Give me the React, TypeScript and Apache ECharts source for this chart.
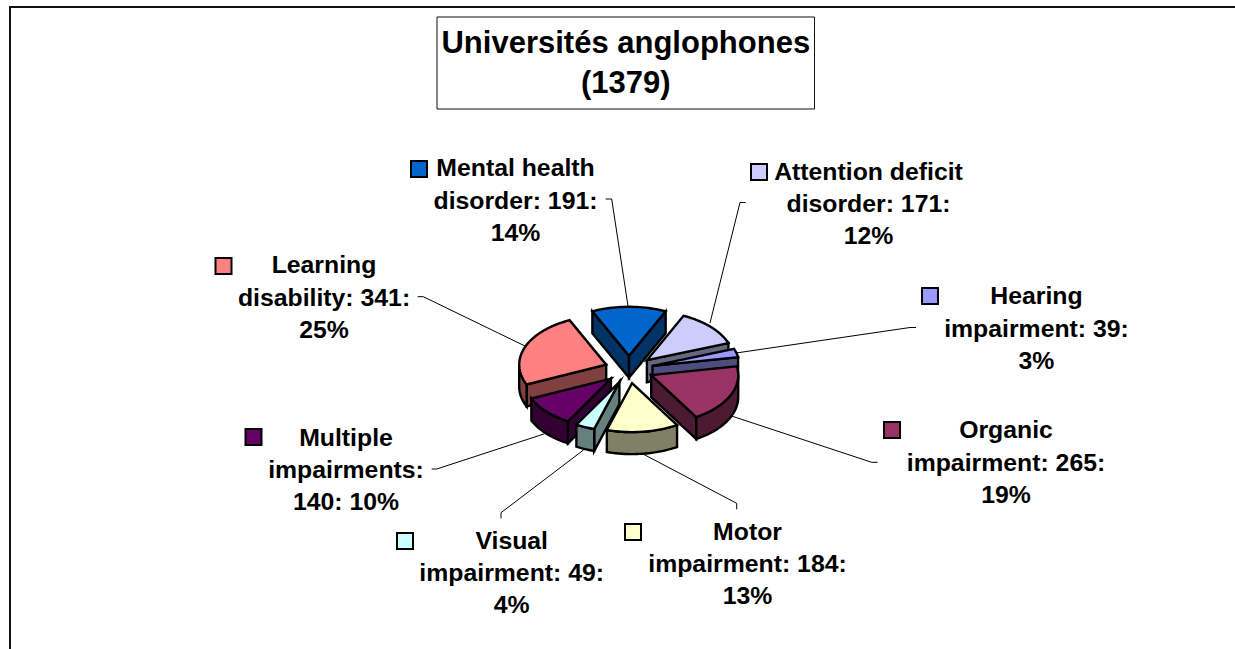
import React, { useEffect, useRef } from "react";
import * as echarts from "echarts";

// ---- data ----
const titleLines = ["Universités anglophones", "(1379)"];
const categories = [
  "Mental health disorder",
  "Attention deficit disorder",
  "Hearing impairment",
  "Organic impairment",
  "Motor impairment",
  "Visual impairment",
  "Multiple impairments",
  "Learning disability",
];
const values = [191, 171, 39, 265, 184, 49, 140, 341];
const labelTexts = [
  "Mental health\ndisorder: 191:\n14%",
  "Attention deficit\ndisorder: 171:\n12%",
  "Hearing\nimpairment: 39:\n3%",
  "Organic\nimpairment: 265:\n19%",
  "Motor\nimpairment: 184:\n13%",
  "Visual\nimpairment: 49:\n4%",
  "Multiple\nimpairments:\n140: 10%",
  "Learning\ndisability: 341:\n25%",
];

// ---- styles ----
const topColors = ["#0066CC", "#CCCCFF", "#9999FF", "#993366", "#FFFFCC", "#CCFFFF", "#660066", "#FF8080"];
const sideColors = ["#003366", "#666680", "#4D4D80", "#4D1A33", "#808066", "#668080", "#330033", "#804040"];

// ---- layout ----
const CX = 629;
const CY = 369.5;
const RX = 87;
const RY = 49;
const DEPTH = 22;
const EXPLODE = 0.28;
const FIRST_ANGLE = -24.9;
const FONT = '"Liberation Sans", Arial, sans-serif';
const labelCentres = [
  [515.5, 200], [868.5, 203.5], [1036.5, 328], [1006, 462],
  [747.5, 563.5], [511.7, 572.5], [346, 469.5], [324, 297],
];
const keyCorners = [
  [410, 160], [750, 163], [921, 287], [883, 421],
  [624, 523], [396, 532], [244.5, 428], [214.5, 257],
];
const leaders = [
  [[605.7, 199], [611.7, 199], [628, 306]],
  [[745.7, 202.5], [740, 202.5], [710, 323]],
  [[916, 327.5], [910, 327.5], [736, 353]],
  [[877.7, 462.3], [871.7, 462.3], [727, 414.5]],
  [[736.7, 509.3], [736.7, 503.3], [643, 454]],
  [[501, 518.3], [501, 512.7], [583.5, 450]],
  [[431.7, 469], [436.7, 469], [544.5, 433.8]],
  [[417.7, 296.7], [423.3, 296.7], [526, 346.5]],
];

const total = values.reduce((a, b) => a + b, 0);
const rad = (d: number) => (d * Math.PI) / 180;
let cursor = FIRST_ANGLE;
const slices = values.map((v) => {
  const start = cursor;
  const end = start + (v / total) * 360;
  cursor = end;
  const mid = (start + end) / 2;
  return {
    start,
    end,
    ax: CX + EXPLODE * RX * Math.sin(rad(mid)),
    ay: CY - EXPLODE * RY * Math.cos(rad(mid)),
  };
});
const drawOrder = values.map((_, i) => i).sort((a, b) => slices[a].ay - slices[b].ay);

function rim(s: { ax: number; ay: number }, deg: number, drop = 0) {
  return [s.ax + RX * Math.sin(rad(deg)), s.ay - RY * Math.cos(rad(deg)) + drop];
}
function arc(s: { ax: number; ay: number }, a: number, b: number, drop = 0) {
  const n = Math.max(2, Math.ceil(Math.abs(b - a) / 2));
  const out: number[][] = [];
  for (let i = 0; i <= n; i++) out.push(rim(s, a + ((b - a) * i) / n, drop));
  return out;
}

function renderSlice(params: any, api: any) {
  const i = api.value(0);
  const s = slices[i];
  const apex = [s.ax, s.ay];
  const apexLow = [s.ax, s.ay + DEPTH];
  const stroke = { stroke: "#000", lineWidth: 2.4, lineJoin: "miter", miterLimit: 12 };
  const side = { ...stroke, fill: sideColors[i] };
  const children: any[] = [];
  const face = (points: number[][]) => children.push({ type: "polygon", shape: { points }, style: side });
  if (Math.sin(rad(s.start)) < 0) {
    face([apex, rim(s, s.start), rim(s, s.start, DEPTH), apexLow]);
  }
  if (Math.sin(rad(s.end)) > 0) {
    face([apex, rim(s, s.end), rim(s, s.end, DEPTH), apexLow]);
  }
  const from = Math.max(s.start, 90);
  const to = Math.min(s.end, 270);
  if (to > from) {
    face([...arc(s, from, to), ...arc(s, to, from, DEPTH)]);
  }
  children.push({
    type: "polygon",
    shape: { points: [apex, ...arc(s, s.start, s.end)] },
    style: { ...stroke, fill: topColors[i] },
  });
  return { type: "group", children };
}

export default function App() {
  const ref = useRef<HTMLDivElement>(null);
  useEffect(() => {
    document.body.style.margin = "0";
    const chart = echarts.init(ref.current!, null, { renderer: "svg" });
    const elements: any[] = [
      { type: "line", shape: { x1: 9, y1: 7, x2: 1235, y2: 7 }, style: { stroke: "#111", lineWidth: 2 } },
      { type: "line", shape: { x1: 10, y1: 6, x2: 10, y2: 649 }, style: { stroke: "#111", lineWidth: 2 } },
      {
        type: "rect",
        shape: { x: 437, y: 17, width: 377.5, height: 92 },
        style: { fill: "#fff", stroke: "#111", lineWidth: 1 },
      },
      {
        type: "text",
        x: 625.8,
        y: 62.5,
        style: {
          text: titleLines.join("\n"),
          fill: "#000",
          font: `bold 31px ${FONT}`,
          lineHeight: 40,
          align: "center",
          verticalAlign: "middle",
        },
      },
    ];
    categories.forEach((name, i) => {
      elements.push({
        type: "polyline",
        name: `${name} leader`,
        shape: { points: leaders[i] },
        style: { stroke: "#000", lineWidth: 1, fill: "none" },
      });
      elements.push({
        type: "rect",
        name: `${name} key`,
        shape: { x: keyCorners[i][0] + 1, y: keyCorners[i][1] + 1, width: 16, height: 16 },
        style: { fill: topColors[i], stroke: "#000", lineWidth: 2 },
      });
      elements.push({
        type: "text",
        name: `${name} label`,
        x: labelCentres[i][0],
        y: labelCentres[i][1],
        style: {
          text: labelTexts[i],
          fill: "#000",
          font: `bold 24.8px ${FONT}`,
          lineHeight: 32.4,
          align: "center",
          verticalAlign: "middle",
        },
      });
    });
    chart.setOption({
      animation: false,
      backgroundColor: "#fff",
      graphic: { elements },
      series: [
        {
          type: "custom",
          coordinateSystem: "none",
          renderItem: renderSlice,
          silent: true,
          data: drawOrder.map((i) => [i, values[i]]),
        },
      ],
    });
    return () => chart.dispose();
  }, []);
  return <div ref={ref} style={{ width: 1235, height: 649 }} />;
}
